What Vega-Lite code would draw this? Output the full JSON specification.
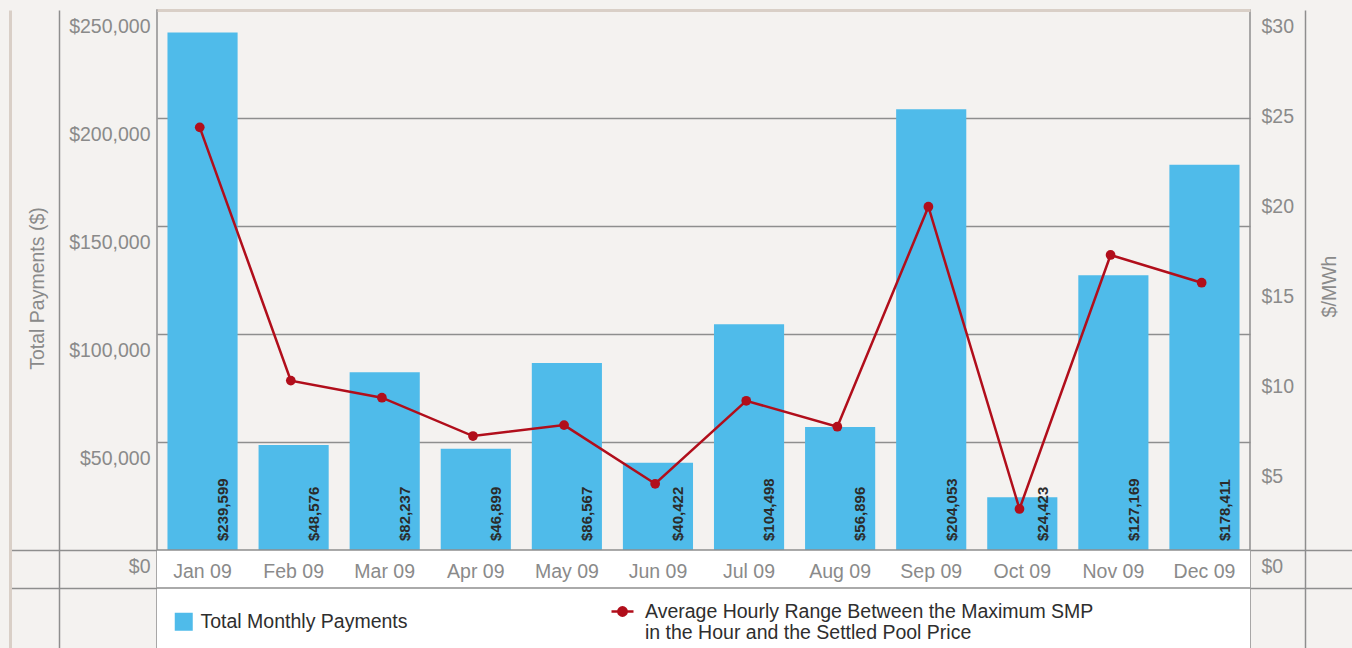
{
  "$schema": "https://vega.github.io/schema/vega-lite/v6.json",
  "width": 1093,
  "height": 638,
  "autosize": {"type": "none"},
  "padding": {"left": 157, "top": 10, "right": 102, "bottom": 0},
  "background": "#F4F2F0",
  "config": {
    "font": "Liberation Sans",
    "view": {"fill": "#F4F2F0", "stroke": "#8E8E8E", "strokeWidth": 1.5},
    "axis": {
      "labelFont": "Liberation Sans", "labelFontSize": 19.5, "labelColor": "#8A8A8A",
      "titleFont": "Liberation Sans", "titleFontSize": 19.5, "titleColor": "#8A8A8A", "titleFontWeight": "normal",
      "domainColor": "#8E8E8E", "domainWidth": 1.5, "tickColor": "#8E8E8E", "tickWidth": 1.5,
      "gridColor": "#8E8E8E", "gridWidth": 1.5, "minExtent": 0, "maxExtent": 400
    },
    "legend": {"labelFont": "Liberation Sans", "labelFontSize": 19.5, "labelColor": "#2E2E2E", "labelLimit": 800, "padding": 0}
  },
  "data": {
    "values": [
      {"month": "Jan 09", "payments": 239599, "range": 23.48},
      {"month": "Feb 09", "payments": 48576, "range": 9.41},
      {"month": "Mar 09", "payments": 82237, "range": 8.46},
      {"month": "Apr 09", "payments": 46899, "range": 6.33},
      {"month": "May 09", "payments": 86567, "range": 6.94},
      {"month": "Jun 09", "payments": 40422, "range": 3.68},
      {"month": "Jul 09", "payments": 104498, "range": 8.29},
      {"month": "Aug 09", "payments": 56896, "range": 6.85},
      {"month": "Sep 09", "payments": 204053, "range": 19.07},
      {"month": "Oct 09", "payments": 24423, "range": 2.28},
      {"month": "Nov 09", "payments": 127169, "range": 16.39},
      {"month": "Dec 09", "payments": 178411, "range": 14.85}
    ]
  },
  "resolve": {"scale": {"y": "independent"}, "axis": {"x": "independent"}},
  "layer": [
    {
      "data": {"values": [{}]},
      "mark": {"type": "rect", "fill": "#FFFFFF"},
      "encoding": {
        "y": {"datum": -45370.37, "type": "quantitative",
          "scale": {"domain": [-45370.37, 250000], "nice": false, "zero": false},
          "axis": {"orient": "left", "offset": 147, "domain": true, "domainColor": "#D9CFC7", "domainWidth": 3,
            "labels": false, "grid": false, "ticks": true, "tickSize": -147, "tickColor": "#8E8E8E",
            "values": [0, -17592.6], "title": null}},
        "y2": {"datum": 0}
      }
    },
    {
      "mark": {"type": "bar", "opacity": 1},
      "encoding": {
        "x": {"field": "month", "type": "nominal", "sort": null,
          "scale": {"paddingInner": 0.23, "paddingOuter": 0.115},
          "axis": {"orient": "bottom", "offset": -98, "labelPadding": 12.5, "ticks": false, "domain": false,
            "labelAngle": 0, "title": null, "grid": false, "zindex": 1}},
        "y": {"field": "payments", "type": "quantitative",
          "scale": {"domain": [-45370.37, 250000], "nice": false, "zero": false},
          "axis": {"orient": "left", "offset": 98, "values": [0, 50000, 100000, 150000, 200000, 250000],
            "labelExpr": "'$' + format(datum.value, ',')", "labelAlign": "right", "labelPadding": -91,
            "labelBaseline": "top", "labelOffset": 7.5, "ticks": false, "grid": true,
            "gridOpacity": {"condition": {"test": "datum.value > 0 && datum.value < 250000", "value": 1}, "value": 0},
            "domain": true, "title": "Total Payments ($)", "titlePadding": 11.5, "titleY": 278,
            "titleAngle": 270, "titleBaseline": "bottom"}},
        "y2": {"datum": 0},
        "fill": {"datum": "Total Monthly Payments", "type": "nominal",
          "scale": {"range": ["#4FBBEA"]},
          "legend": {"title": null, "orient": "none", "legendX": 17, "legendY": 602, "symbolType": "square",
            "symbolSize": 324, "symbolStrokeWidth": 0, "labelOffset": 7}}
      }
    },
    {
      "mark": {"type": "text", "angle": 270, "align": "left", "baseline": "middle", "dx": 9,
        "font": "Liberation Sans", "fontWeight": "bold", "fontSize": 15, "color": "#2B2B2B"},
      "encoding": {
        "x": {"field": "month", "type": "nominal", "sort": null, "bandPosition": 0.79, "axis": null},
        "y": {"datum": 0, "type": "quantitative",
          "scale": {"domain": [-45370.37, 250000], "nice": false, "zero": false}, "axis": null},
        "text": {"field": "payments", "type": "quantitative", "format": "$,.0f"}
      }
    },
    {
      "data": {"values": [{}]},
      "mark": {"type": "rule", "stroke": "#8E8E8E", "strokeWidth": 1.5},
      "encoding": {
        "y": {"datum": 0, "type": "quantitative",
          "scale": {"domain": [-45370.37, 250000], "nice": false, "zero": false}, "axis": null}
      }
    },
    {
      "data": {"values": [{}]},
      "mark": {"type": "rule", "stroke": "#8E8E8E", "strokeWidth": 1.5},
      "encoding": {
        "y": {"datum": -17592.6, "type": "quantitative",
          "scale": {"domain": [-45370.37, 250000], "nice": false, "zero": false}, "axis": null}
      }
    },
    {
      "mark": {"type": "line", "strokeWidth": 2.5},
      "encoding": {
        "x": {"field": "month", "type": "nominal", "sort": null, "bandPosition": 0.46,
          "axis": {"orient": "top", "domain": true, "domainColor": "#D9CFC7", "domainWidth": 3,
            "labels": false, "ticks": false, "grid": false, "title": null}},
        "y": {"field": "range", "type": "quantitative",
          "scale": {"domain": [-5.4444, 30], "nice": false, "zero": false},
          "axis": {"orient": "right", "offset": 55, "values": [0, 5, 10, 15, 20, 25, 30],
            "labelExpr": "'$' + datum.value", "labelAlign": "left", "labelPadding": -44,
            "labelBaseline": "top", "labelOffset": 7.5, "ticks": false, "grid": false, "domain": true,
            "title": "$/MWh", "titleAngle": 270, "titleBaseline": "top", "titlePadding": 15, "titleY": 276}},
        "stroke": {"datum": "Average Hourly Range Between the Maximum SMP\nin the Hour and the Settled Pool Price", "type": "nominal",
          "scale": {"range": ["#B10E1B"]},
          "legend": {"title": null, "orient": "none", "legendX": 453, "legendY": 589,
            "symbolType": "M-1,0L1,0M-0.38,0A0.38,0.38,0,1,1,0.38,0A0.38,0.38,0,1,1,-0.38,0Z",
            "symbolSize": 484, "symbolStrokeWidth": 2.5, "symbolFillColor": "#B10E1B", "symbolStrokeColor": "#B10E1B",
            "labelExpr": "split(datum.label, '\\n')", "labelOffset": 10}}
      }
    },
    {
      "mark": {"type": "point", "filled": true, "size": 95, "color": "#B10E1B", "opacity": 1},
      "encoding": {
        "x": {"field": "month", "type": "nominal", "sort": null, "bandPosition": 0.46, "axis": null},
        "y": {"field": "range", "type": "quantitative",
          "scale": {"domain": [-5.4444, 30], "nice": false, "zero": false},
          "axis": {"orient": "right", "offset": 102, "domain": false, "labels": false, "grid": false,
            "ticks": true, "tickSize": -102, "tickColor": "#8E8E8E", "values": [0, -2.1111], "title": null}}
      }
    }
  ]
}
